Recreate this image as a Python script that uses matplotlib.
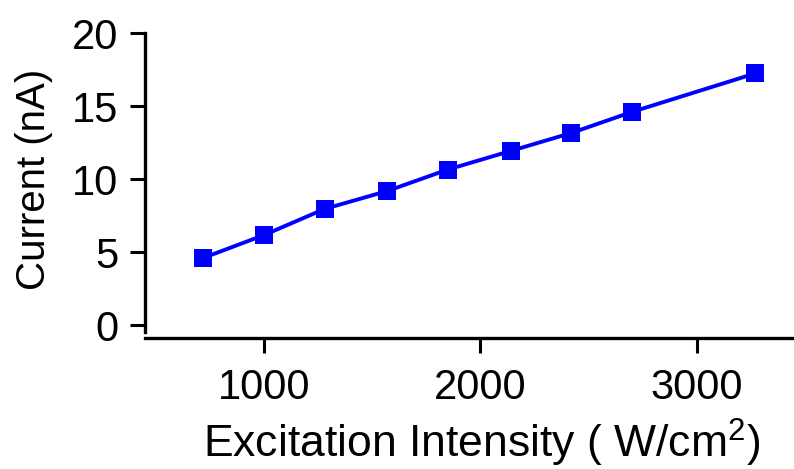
import matplotlib
matplotlib.use("Agg")
import matplotlib.pyplot as plt

# photocurrent vs excitation intensity
intensity = [720, 1000, 1280, 1570, 1850, 2140, 2420, 2700, 3270]
current = [4.6, 6.16, 7.95, 9.18, 10.65, 11.92, 13.15, 14.59, 17.23]

x_ticks = [1000, 2000, 3000]
y_ticks = [0, 5, 10, 15, 20]

plt.rcParams['font.family'] = ['Liberation Sans', 'DejaVu Sans']
plt.rcParams['mathtext.fontset'] = 'custom'
plt.rcParams['mathtext.rm'] = 'Liberation Sans'
plt.rcParams['mathtext.default'] = 'regular'

fig = plt.figure(figsize=(7.94, 4.69), dpi=100)
ax = fig.add_axes([0.1826, 0.307, 0.8174, 0.6226])

ax.plot(intensity, current, color='#0000ff', linewidth=2.8,
        marker='s', markersize=12.5, markeredgewidth=0, clip_on=False)

ax.set_xlim(450, 3450)
ax.set_ylim(0, 20)
ax.set_xticks(x_ticks)
ax.set_yticks(y_ticks)

# prism-style axes: bottom spine pushed out below the zero line
for side in ('top', 'right'):
    ax.spines[side].set_visible(False)
for side in ('left', 'bottom'):
    ax.spines[side].set_linewidth(2.4)
ax.spines['bottom'].set_position(('outward', 9))
ax.spines['left'].set_bounds(-0.45, 20)

ax.tick_params(axis='both', direction='out', length=11, width=2.2,
               labelsize=30)
ax.tick_params(axis='x', pad=11)
ax.tick_params(axis='y', pad=8)

ax.set_ylabel('Current (nA)', fontsize=29, labelpad=14)
ax.set_xlabel(r'Excitation Intensity ( W/cm$^{2}$)', fontsize=32)
ax.xaxis.set_label_coords(0.519, -0.315)

fig.savefig('out.png', dpi=100)
